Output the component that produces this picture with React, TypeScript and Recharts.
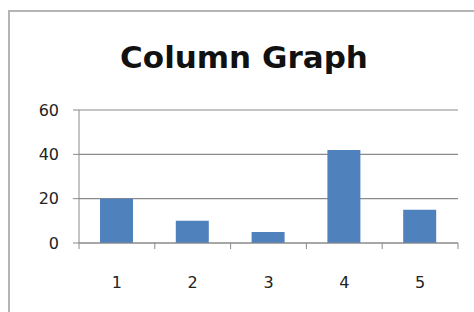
import React from "react";
import { Bar, BarChart, CartesianGrid, XAxis, YAxis } from "recharts";

const categories = ["1", "2", "3", "4", "5"];
const values = [20, 10, 5, 42, 15];
const yTicks = [0, 20, 40, 60];

const data = categories.map((name, i) => ({ name, value: values[i] }));

const W = 474;
const H = 312;
const margin = { top: 110, right: 16, bottom: 39, left: 39 };
const Y_AXIS_W = 40;
const PLOT_W = W - margin.left - margin.right - Y_AXIS_W;
const AXIS_COLOR = "#8a8a8a";
const FONT = "'DejaVu Sans', sans-serif";

function XTick(props: any) {
  const { x, y, payload, index } = props;
  const band = PLOT_W / categories.length;
  const left = x - band / 2;
  const isLast = index === categories.length - 1;
  return (
    <g>
      <line x1={left} x2={left} y1={y} y2={y + 6} stroke={AXIS_COLOR} />
      {isLast && (
        <line x1={left + band} x2={left + band} y1={y} y2={y + 6} stroke={AXIS_COLOR} />
      )}
      <text x={x} y={y + 45} textAnchor="middle" fontSize={16} fontFamily={FONT} fill="#222">
        {payload.value}
      </text>
    </g>
  );
}

export default function App() {
  return (
    <div style={{ position: "absolute", left: 0, top: 0, width: W, height: H, overflow: "hidden", background: "#fff" }}>
      <div
        style={{
          position: "absolute",
          left: 8,
          top: 10,
          width: 480,
          height: 320,
          border: "2px solid #b4b4b4",
        }}
      />
      <div
        style={{
          position: "absolute",
          left: 0,
          width: 488,
          top: 39,
          textAlign: "center",
          fontFamily: FONT,
          fontWeight: "bold",
          fontSize: 31,
          color: "#111",
          lineHeight: "36px",
        }}
      >
        Column Graph
      </div>
      <div style={{ position: "absolute", left: 0, top: 0 }}>
        <BarChart width={W} height={H} data={data} margin={margin}>
          <CartesianGrid vertical={false} stroke={AXIS_COLOR} strokeWidth={1.2} />
          <XAxis
            dataKey="name"
            height={30}
            stroke={AXIS_COLOR}
            tickLine={false}
            tickSize={0}
            tickMargin={0}
            tick={<XTick />}
            interval={0}
          />
          <YAxis
            width={Y_AXIS_W}
            domain={[0, 60]}
            ticks={yTicks}
            stroke={AXIS_COLOR}
            tickSize={6}
            tickMargin={14}
            tick={{ fontSize: 16, fontFamily: FONT, fill: "#222" }}
          />
          <Bar dataKey="value" fill="#4f81bd" barSize={33} isAnimationActive={false} />
        </BarChart>
      </div>
    </div>
  );
}
